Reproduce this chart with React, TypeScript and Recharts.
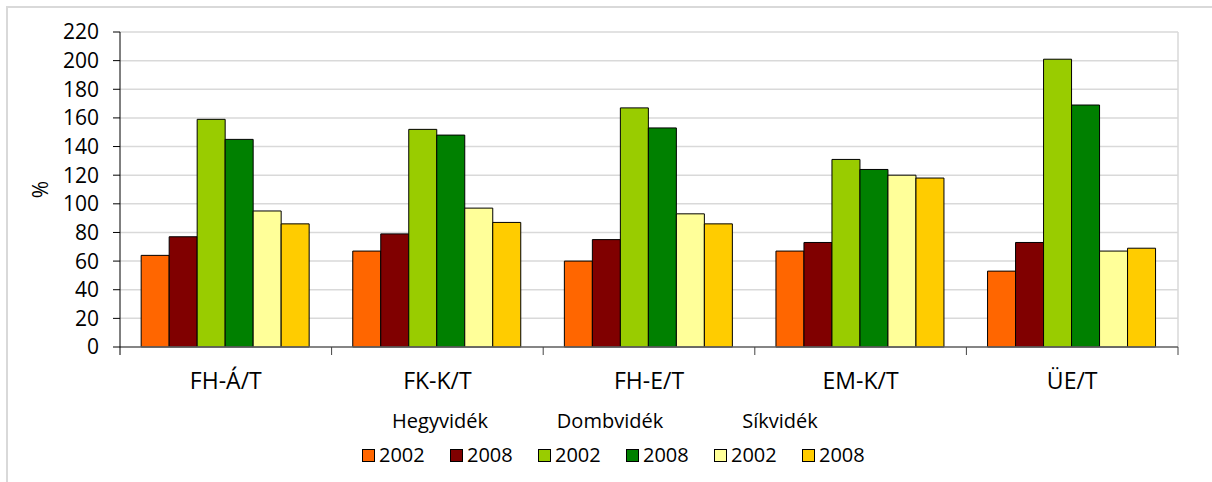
import React from 'react';
import { Bar, BarChart, CartesianGrid, XAxis, YAxis } from 'recharts';

const categories = ['FH-Á/T', 'FK-K/T', 'FH-E/T', 'EM-K/T', 'ÜE/T'];
const hegy2002 = [64, 67, 60, 67, 53];
const hegy2008 = [77, 79, 75, 73, 73];
const domb2002 = [159, 152, 167, 131, 201];
const domb2008 = [145, 148, 153, 124, 169];
const sik2002 = [95, 97, 93, 120, 67];
const sik2008 = [86, 87, 86, 118, 69];
const yTicks = [0, 20, 40, 60, 80, 100, 120, 140, 160, 180, 200, 220];
const groupNames = ['Hegyvidék', 'Dombvidék', 'Síkvidék'];
const years = ['2002', '2008'];

const series = [
  { key: 'h02', name: years[0], values: hegy2002, color: '#FF6600' },
  { key: 'h08', name: years[1], values: hegy2008, color: '#800000' },
  { key: 'd02', name: years[0], values: domb2002, color: '#99CC00' },
  { key: 'd08', name: years[1], values: domb2008, color: '#008000' },
  { key: 's02', name: years[0], values: sik2002, color: '#FFFF99' },
  { key: 's08', name: years[1], values: sik2008, color: '#FFCC00' },
];

const data = categories.map((cat, i) => {
  const row: any = { cat };
  series.forEach(s => { row[s.key] = s.values[i]; });
  return row;
});

const FONT = '"Open Sans", sans-serif';

// category label in the middle, small tick marks on the band edges
const CatTick = (props: any) => {
  const { x, y, payload, index, width, visibleTicksCount } = props;
  const half = width / visibleTicksCount / 2;
  const last = index === visibleTicksCount - 1;
  return (
    <g>
      <line x1={x - half} x2={x - half} y1={y} y2={y + 8} stroke={index === 0 ? '#000' : '#444'} />
      {last && <line x1={x + half} x2={x + half} y1={y} y2={y + 8} stroke="#444" />}
      <text x={x} y={y + 42} textAnchor="middle" fontFamily={FONT} fontSize={23} fill="#000">
        {payload.value}
      </text>
    </g>
  );
};

const PctLabel = (props: any) => {
  const { viewBox } = props;
  const cx = viewBox.x + 40;
  const cy = viewBox.y + viewBox.height / 2;
  return (
    <text x={cx} y={cy} transform={`rotate(-90 ${cx} ${cy})`} textAnchor="middle"
      dominantBaseline="central" fontFamily={FONT} fontSize={21} fill="#000">%</text>
  );
};

export default function App() {
  return (
    <div style={{ position: 'absolute', left: 0, top: 0, width: 1212, height: 482, overflow: 'hidden', background: '#fff' }}>
      <div style={{ position: 'absolute', left: 6, top: 6, width: 1300, height: 600, border: '2px solid #d9d9d9' }} />
      <div style={{ position: 'absolute', left: 0, top: 0 }}>
        <BarChart
          width={1212}
          height={482}
          data={data}
          margin={{ top: 32, right: 34, left: 0, bottom: 85 }}
          barCategoryGap="10%"
          barGap={0}
        >
          <CartesianGrid
            stroke="#d9d9d9"
            strokeWidth={1.5}
            vertical={true}
            verticalCoordinatesGenerator={({ offset }: any) => [offset.left + offset.width]}
          />
          <XAxis
            dataKey="cat"
            height={50}
            axisLine={{ stroke: '#666', strokeWidth: 1.5 }}
            tickLine={false}
            tickSize={0}
            tickMargin={0}
            interval={0}
            tick={<CatTick />}
          />
          <YAxis
            width={120}
            domain={[0, 220]}
            ticks={yTicks}
            interval={0}
            axisLine={{ stroke: '#000' }}
            tickLine={{ stroke: '#000' }}
            tickSize={7}
            tickMargin={14}
            tick={{ fill: '#000', fontSize: 21, fontFamily: FONT }}
            label={<PctLabel />}
          />
          {series.map(s => (
            <Bar
              key={s.key}
              dataKey={s.key}
              fill={s.color}
              stroke="#000"
              strokeWidth={1}
              isAnimationActive={false}
            />
          ))}
        </BarChart>
      </div>
      {groupNames.map((g, i) => (
        <div key={g} style={{
          position: 'absolute', left: 352 + i * 170, top: 408, width: 176, textAlign: 'center',
          fontFamily: FONT, fontSize: 20, lineHeight: '26px', color: '#000',
        }}>{g}</div>
      ))}
      <div style={{ position: 'absolute', left: 362, top: 442, display: 'flex', fontFamily: FONT, fontSize: 20, lineHeight: '26px' }}>
        {series.map(s => (
          <div key={s.key} style={{ width: 88, display: 'flex', alignItems: 'center' }}>
            <span style={{ width: 11, height: 11, background: s.color, border: '1px solid #000', marginRight: 4, display: 'inline-block' }} />
            <span>{s.name}</span>
          </div>
        ))}
      </div>
    </div>
  );
}
